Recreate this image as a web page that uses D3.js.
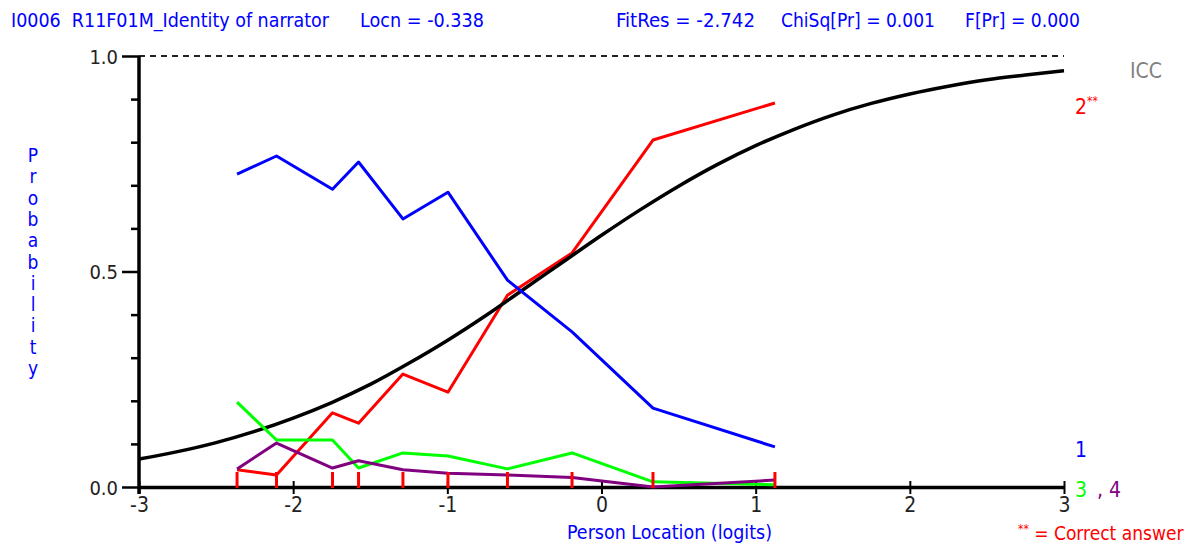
<!DOCTYPE html>
<html>
<head>
<meta charset="utf-8">
<script src="https://cdn.jsdelivr.net/npm/d3@7"></script>
<style>
  html, body { margin: 0; padding: 0; background: #fff; }
  svg { display: block; }
  text { font-family: "Liberation Sans Narrow", "DejaVu Sans Condensed", "Arial Narrow", sans-serif; }
</style>
</head>
<body>
<svg id="chart" width="1195" height="545"></svg>
<script>
// Item I0006 – observed proportions per class interval for each response option,
// plus the model ICC of the keyed option.
const classLocations = [-2.364, -2.108, -1.745, -1.576, -1.288, -0.996, -0.610, -0.191, 0.334, 1.125];
const option1 = [0.726, 0.768, 0.691, 0.754, 0.622, 0.684, 0.480, 0.360, 0.183, 0.093];
const option2 = [0.040, 0.028, 0.172, 0.148, 0.262, 0.220, 0.445, 0.543, 0.805, 0.891];
const option3 = [0.197, 0.109, 0.109, 0.044, 0.079, 0.072, 0.042, 0.079, 0.012, 0.005];
const option4 = [0.042, 0.102, 0.044, 0.061, 0.040, 0.032, 0.028, 0.022, 0.000, 0.016];

const iccLocations = [-3, -2.75, -2.5, -2.25, -2, -1.75, -1.5, -1.25, -1, -0.75, -0.5, -0.25,
                      0, 0.25, 0.5, 0.75, 1, 1.25, 1.5, 1.75, 2, 2.25, 2.5, 2.75, 3];
const iccValues = [0.065, 0.082, 0.103, 0.129, 0.160, 0.196, 0.238, 0.287, 0.340, 0.398, 0.460, 0.522,
                   0.584, 0.643, 0.698, 0.748, 0.792, 0.830, 0.863, 0.890, 0.912, 0.930, 0.945, 0.956, 0.966];

const xTicks = [-3, -2, -1, 0, 1, 2, 3];
const yTicks = [0, 0.1, 0.2, 0.3, 0.4, 0.5, 0.6, 0.7, 0.8, 0.9, 1.0];
const yLabelTicks = [0, 0.5, 1.0];

const headerItems = [
  { text: "I0006  R11F01M_Identity of narrator", x: 11, w: 318 },
  { text: "Locn = -0.338", x: 360, w: 124 },
  { text: "FitRes = -2.742", x: 616, w: 139 },
  { text: "ChiSq[Pr] = 0.001", x: 781, w: 154 },
  { text: "F[Pr] = 0.000", x: 965, w: 115 }
];

const series = [
  { key: "1", values: option1, color: "#0000ff" },
  { key: "2", values: option2, color: "#ff0000" },
  { key: "3", values: option3, color: "#00ff00" },
  { key: "4", values: option4, color: "#800080" }
];

const svg = d3.select("#chart");
const blue = "#0000ff";

const x = d3.scaleLinear().domain([-3, 3]).range([139, 1064]);
const y = d3.scaleLinear().domain([0, 1]).range([487, 56]);

// Header line
svg.append("g").selectAll("text").data(headerItems).join("text")
  .attr("x", d => d.x).attr("y", 27)
  .attr("font-size", 19).attr("fill", blue)
  .style("white-space", "pre")
  .attr("textLength", d => d.w).attr("lengthAdjust", "spacingAndGlyphs")
  .text(d => d.text);

// Upper reference line at probability 1.0
svg.append("line")
  .attr("x1", x(-3)).attr("x2", x(3))
  .attr("y1", y(1)).attr("y2", y(1))
  .attr("stroke", "#222").attr("stroke-width", 2)
  .attr("stroke-dasharray", "6,5");

// Y axis
const isMajor = d => yLabelTicks.some(v => Math.abs(v - d) < 1e-9);
const yAxis = d3.axisLeft(y).tickValues(yTicks).tickSizeOuter(0)
  .tickFormat(d => isMajor(d) ? d3.format(".1f")(d) : "");
const gy = svg.append("g").attr("transform", `translate(${x(-3)},0)`).call(yAxis);
gy.select(".domain").remove();
gy.selectAll(".tick line")
  .attr("stroke", "#000").attr("stroke-width", 2.5)
  .attr("x2", d => isMajor(d) ? -17 : -8);
gy.selectAll(".tick text")
  .attr("x", -21).attr("dy", "0.36em")
  .attr("font-size", 20).attr("fill", "#222")
  .style("font-family", "'Liberation Sans Narrow', 'DejaVu Sans Condensed', sans-serif");
svg.append("line")
  .attr("x1", x(-3)).attr("x2", x(-3))
  .attr("y1", y(1)).attr("y2", y(0) + 7)
  .attr("stroke", "#000").attr("stroke-width", 3.5);

// X axis
const xAxis = d3.axisBottom(x).tickValues(xTicks).tickSizeOuter(0).tickFormat(d3.format("d"));
const gx = svg.append("g").attr("transform", `translate(0,${y(0)})`).call(xAxis);
gx.select(".domain").attr("stroke", "#000").attr("stroke-width", 3.5);
gx.selectAll(".tick line")
  .attr("stroke", "#000").attr("stroke-width", 2)
  .attr("y1", -6).attr("y2", 7);
gx.selectAll(".tick text")
  .attr("y", 10).attr("dy", "0.71em")
  .attr("font-size", 21).attr("fill", "#222")
  .style("font-family", "'Liberation Sans Narrow', 'DejaVu Sans Condensed', sans-serif")
  .text(d => d < 0 ? "-" + Math.abs(d) : String(d));

// Axis titles
svg.append("text")
  .attr("x", 567).attr("y", 539)
  .attr("font-size", 20).attr("fill", blue)
  .attr("textLength", 205).attr("lengthAdjust", "spacingAndGlyphs")
  .text("Person Location (logits)");

const yTitle = "Probability".split("");
svg.append("g").selectAll("text").data(yTitle).join("text")
  .attr("x", 33).attr("y", (d, i) => 162 + i * 21.3)
  .attr("text-anchor", "middle")
  .attr("font-size", 19).attr("fill", blue)
  .text(d => d);

// Curves: keyed option first, then the model ICC, then the distractors
const marks = svg.append("g");
const line = d3.line().x(d => x(d[0])).y(d => y(d[1]));
const iccLine = d3.line().curve(d3.curveMonotoneX).x(d => x(d[0])).y(d => y(d[1]));

function drawOption(s) {
  marks.append("path")
    .attr("d", line(classLocations.map((c, i) => [c, s.values[i]])))
    .attr("fill", "none")
    .attr("stroke", s.color)
    .attr("stroke-width", 3)
    .attr("stroke-linejoin", "round");
}

drawOption(series[1]);
marks.append("path")
  .attr("d", iccLine(iccLocations.map((t, i) => [t, iccValues[i]])))
  .attr("fill", "none").attr("stroke", "#000").attr("stroke-width", 3.5);
drawOption(series[0]);
drawOption(series[2]);
drawOption(series[3]);

// Class interval markers
svg.append("g").selectAll("line").data(classLocations).join("line")
  .attr("x1", d => x(d)).attr("x2", d => x(d))
  .attr("y1", y(0) + 1).attr("y2", y(0) - 15)
  .attr("stroke", "#ff0000").attr("stroke-width", 3);

// Right-hand labels
svg.append("text").attr("x", 1130).attr("y", 78)
  .attr("font-size", 21).attr("fill", "#808080").text("ICC");

const lab2 = svg.append("text").attr("x", 1075).attr("y", 114)
  .attr("font-size", 21).attr("fill", "#ff0000");
lab2.append("tspan").text("2");
lab2.append("tspan").attr("font-size", 12).attr("dy", -9).text("**");

svg.append("text").attr("x", 1075).attr("y", 457)
  .attr("font-size", 21).attr("fill", blue).text("1");
svg.append("text").attr("x", 1075).attr("y", 497)
  .attr("font-size", 21).attr("fill", "#00ff00").text("3");
svg.append("text").attr("x", 1097).attr("y", 497)
  .attr("font-size", 21).attr("fill", "#800080").text(", 4");

const note = svg.append("text").attr("x", 1018).attr("y", 540)
  .attr("font-size", 19).attr("fill", "#ff0000");
note.append("tspan").attr("font-size", 12).attr("dy", -7).text("**");
note.append("tspan").attr("dy", 7).text(" = Correct answer");
</script>
</body>
</html>
